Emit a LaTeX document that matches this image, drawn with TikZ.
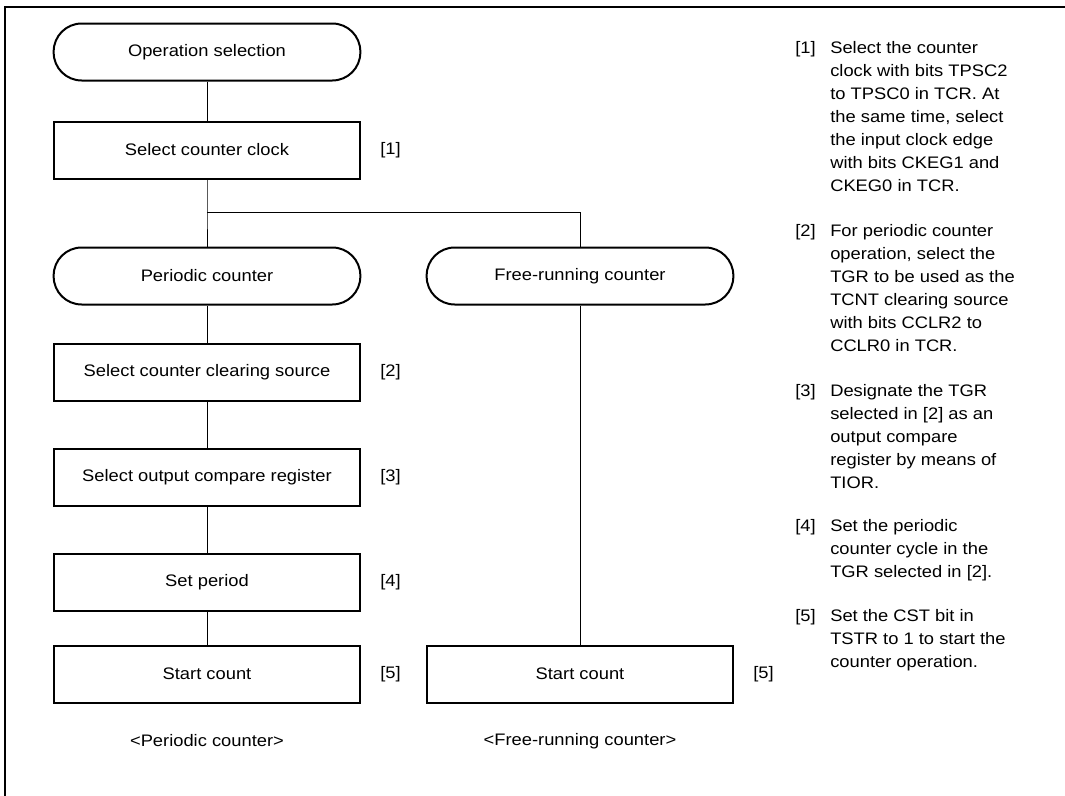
\documentclass[tikz,border=0pt]{standalone}
\usepackage{fontspec}
\setmainfont{Liberation Sans}[FakeStretch=1.1]
\usetikzlibrary{positioning}

\tikzset{
  box/.style={draw, line width=1.5pt, minimum width=230pt, minimum height=42.75pt, inner sep=0pt},
  term/.style={box, rounded corners=21pt},
  link/.style={line width=0.75pt},
  steptag/.style={inner sep=0pt},
  note/.style={anchor=north west, align=left, inner sep=0pt},
}

\begin{document}
\begin{tikzpicture}[x=0.75pt,y=-0.75pt,font=\fontsize{12.5pt}{17.25pt}\selectfont]
\useasboundingbox (0,0) rectangle (1065,796);
\draw[line width=1.5pt] (1065,7) -- (5,7) -- (5,796);

% periodic counter
\node[term] (opsel) at (207,52) {Operation selection};
\node[box] (clock) at (207,150) {Select counter clock};
\node[term] (periodic) at (207,276) {Periodic counter};
\node[box] (clear) at (207,372) {Select counter clearing source};
\node[box] (compare) at (207,477) {Select output compare register};
\node[box] (period) at (207,582) {Set period};
\node[box] (startp) at (207,674) {Start count};

% free-running counter
\node[term] (free) at (580,276) {Free-running counter};
\node[box] (startf) at (580,674) {Start count};

\node[steptag, right=14pt of clock] {[1]};
\node[steptag, right=14pt of clear] {[2]};
\node[steptag, right=14pt of compare] {[3]};
\node[steptag, right=14pt of period] {[4]};
\node[steptag, right=14pt of startp] {[5]};
\node[steptag, right=14pt of startf] {[5]};

\node (capp) at (207,741) {<Periodic counter>};
\node (capf) at (580,741) {<Free-running counter>};

\coordinate (fork) at (207,212);
\draw[link] (opsel) -- (clock);
\draw[link] (clock) -- (fork) -- (periodic);
\draw[link] (fork) -| (free);
\draw[link] (periodic) -- (clear);
\draw[link] (clear) -- (compare);
\draw[link] (compare) -- (period);
\draw[link] (period) -- (startp);
\draw[link] (free) -- (startf);

% notes
\node[note] (tag1) at (795,41) {[1]};
\node[note] (note1) at (830,41) {Select the counter\\clock with bits TPSC2\\to TPSC0 in TCR. At\\the same time, select\\the input clock edge\\with bits CKEG1 and\\CKEG0 in TCR.};
\node[note] (tag2) at (795,224) {[2]};
\node[note] (note2) at (830,224) {For periodic counter\\operation, select the\\TGR to be used as the\\TCNT clearing source\\with bits CCLR2 to\\CCLR0 in TCR.};
\node[note] (tag3) at (795,384) {[3]};
\node[note] (note3) at (830,384) {Designate the TGR\\selected in [2] as an\\output compare\\register by means of\\TIOR.};
\node[note] (tag4) at (795,519) {[4]};
\node[note] (note4) at (830,519) {Set the periodic\\counter cycle in the\\TGR selected in [2].};
\node[note] (tag5) at (795,609) {[5]};
\node[note] (note5) at (830,609) {Set the CST bit in\\TSTR to 1 to start the\\counter operation.};
\end{tikzpicture}
\end{document}
